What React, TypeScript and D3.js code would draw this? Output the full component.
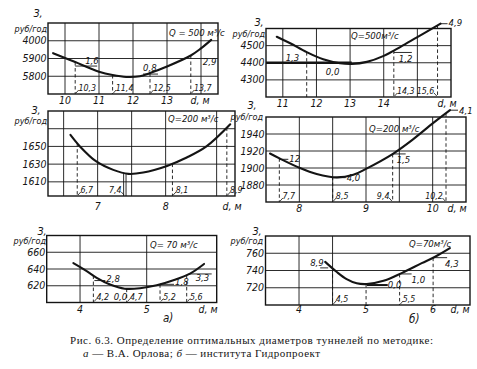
import React, { useEffect } from "react";
import * as d3 from "d3";

// ---------------- DATA ----------------
// а) Q = 500 m3/s
const a500D = [9.65, 10.0, 10.3, 11.0, 11.4, 11.8, 12.2, 12.5, 13.0, 13.7, 14.0, 14.3];
const a500Z = [5930, 5903, 5880, 5826, 5807, 5796, 5800, 5818, 5855, 5917, 5957, 6005];
const a500XGrid = [10, 11, 12, 13, 14];
const a500YGrid = [5800, 5900, 6000];
const a500XTicks = [10, 11, 12, 13];
const a500XLabels = ["10", "11", "12", "13"];
const a500YTicks = [5800, 5900, 6000];
const a500YLabels = ["5800", "5900", "4000"];
const a500Opt = [10.3, 11.4, 12.5, 13.7];
const a500OptLabels = ["10,3", "11,4", "12,5", "13,7"];
const a500PctAt = [10.3, 12.5, 13.7];
const a500Pct = ["1,6", "0,8", "2,9"];

// б) Q = 500 m3/s
const b500D = [10.82, 11.22, 11.71, 12.2, 12.7, 13.05, 13.5, 14.0, 14.5, 15.0, 15.69];
const b500Z = [4552, 4514, 4462, 4420, 4397, 4393, 4405, 4440, 4493, 4550, 4628];
const b500XGrid = [11, 12, 13, 14, 15];
const b500YGrid = [4300, 4400, 4500];
const b500XTicks = [11, 12, 13, 14];
const b500XLabels = ["11", "12", "13", "14"];
const b500YTicks = [4300, 4400, 4500];
const b500YLabels = ["4300", "4400", "4500"];
const b500Opt = [11.71, 14.3, 15.6];
const b500OptLabels = ["", "14,3", "15,6"];
const b500PctAt = [11.71, 13.05, 14.3, 15.69];
const b500Pct = ["1,3", "0,0", "1,2", "4,9"];

// а) Q = 200 m3/s
const a200D = [6.6, 6.74, 6.98, 7.23, 7.45, 7.67, 8.02, 8.31, 8.6, 8.95];
const a200Z = [1663, 1650, 1633, 1623.5, 1619, 1620.5, 1628, 1637.5, 1650, 1675];
const a200XGrid = [6.5, 7, 7.5, 8, 8.75];
const a200YGrid = [1610, 1630, 1650, 1670];
const a200XTicks = [7, 8];
const a200XLabels = ["7", "8"];
const a200YTicks = [1610, 1630, 1650];
const a200YLabels = ["1610", "1630", "1650"];
const a200Opt = [6.7, 7.4, 8.1, 8.9];
const a200OptLabels = ["6,7", "7,4", "8,1", "8,9"];
const a200PctAt: number[] = [];
const a200Pct: string[] = [];

// б) Q = 200 m3/s
const b200D = [7.56, 7.71, 8.01, 8.26, 8.56, 8.81, 9.0, 9.41, 9.71, 10.01, 10.26];
const b200Z = [1917, 1911, 1900, 1893, 1889, 1892, 1899, 1917, 1934, 1953, 1968];
const b200XGrid = [8, 8.5, 9, 9.5, 10];
const b200YGrid = [1880, 1900, 1920, 1940];
const b200XTicks = [8, 9, 10];
const b200XLabels = ["8", "9", "10"];
const b200YTicks = [1880, 1900, 1920, 1940];
const b200YLabels = ["1880", "1900", "1920", "1940"];
const b200Opt = [7.7, 8.5, 9.4, 10.2];
const b200OptLabels = ["7,7", "8,5", "9,4", "10,2"];
const b200PctAt = [7.7, 8.5, 9.4, 10.26];
const b200Pct = ["12", "4,0", "1,5", "4,1"];

// а) Q = 70 m3/s
const a70D = [3.9, 4.1, 4.25, 4.45, 4.67, 4.9, 5.15, 5.4, 5.65, 5.86];
const a70Z = [647, 637.5, 629.5, 621.5, 616.5, 617, 620.5, 626.5, 634.5, 646];
const a70XGrid = [4, 5];
const a70YGrid = [620, 640, 660];
const a70XTicks = [4, 5];
const a70XLabels = ["4", "5"];
const a70YTicks = [620, 640, 660];
const a70YLabels = ["620", "640", "660"];
const a70Opt = [4.2, 4.7, 5.2, 5.6];
const a70OptLabels = ["4,2", "4,7", "5,2", "5,6"];
const a70PctAt = [4.2, 4.67, 5.2, 5.6];
const a70Pct = ["2,8", "0,0", "1,8", "3,3"];

// б) Q = 70 m3/s
const b70D = [4.39, 4.56, 4.71, 4.86, 5.01, 5.26, 5.53, 5.83, 6.03, 6.25];
const b70Z = [750, 738.5, 730, 725.2, 724.3, 728, 737, 748.5, 756, 766];
const b70XGrid = [4, 4.5];
const b70YGrid = [720, 740, 760];
const b70XTicks = [4, 5, 6];
const b70XLabels = ["4", "5", "6"];
const b70YTicks = [720, 740, 760];
const b70YLabels = ["720", "740", "760"];
const b70Opt = [4.5, 5.0, 5.5, 6.0];
const b70OptLabels = ["4,5", "", "5,5", ""];
const b70PctAt = [4.39, 5.01, 5.5, 6.0];
const b70Pct = ["8,9", "0,0", "1,0", "4,3"];

// ---------------- LAYOUT ----------------
type Leader = [number, number, number] | null; // x1 off, x2 off, y off
interface PanelCfg {
  d: number[]; z: number[];
  xDom: [number, number]; xRange: [number, number];
  yDom: [number, number]; yRange: [number, number];
  xGrid: number[]; yGrid: number[];
  xTicks: number[]; xLabels: string[];
  yTicks: number[]; yLabels: string[];
  opt: number[]; optLabels: string[]; optSide: string[]; optSolid: boolean[];
  pctAt: number[]; pct: string[];
  pctText: [number, number][]; pctLeader: Leader[]; pctThick?: boolean[];
  q: string; qPos: [number, number];
  dmPos: [number, number]; zPos: [number, number]; rubPos: [number, number];
  tickY: number;
  thick?: [number, number, number];
}

const panels: PanelCfg[] = [
  {
    d: a500D, z: a500Z, xDom: [9.5, 14.5], xRange: [48, 218], yDom: [5700, 6100], yRange: [94, 23],
    xGrid: a500XGrid, yGrid: a500YGrid, xTicks: a500XTicks, xLabels: a500XLabels,
    yTicks: a500YTicks, yLabels: a500YLabels,
    opt: a500Opt, optLabels: a500OptLabels, optSide: ["r", "r", "r", "r"], optSolid: [false, false, false, false],
    pctAt: a500PctAt, pct: a500Pct,
    pctText: [[10, 2], [-7, -2], [12, 10]], pctLeader: [[0, 22, 4], [-7, 8, 1], null],
    q: "Q = 500 м³/с", qPos: [169, 35.5], dmPos: [200, 104], zPos: [38, 17], rubPos: [47, 32], tickY: 104,
  },
  {
    d: b500D, z: b500Z, xDom: [10.5, 16.0], xRange: [266, 451], yDom: [4200, 4600], yRange: [97, 28.5],
    xGrid: b500XGrid, yGrid: b500YGrid, xTicks: b500XTicks, xLabels: b500XLabels,
    yTicks: b500YTicks, yLabels: b500YLabels,
    opt: b500Opt, optLabels: b500OptLabels, optSide: ["n", "r", "l"], optSolid: [false, false, false],
    pctAt: b500PctAt, pct: b500Pct,
    pctText: [[-21, 9], [-26, 11], [5, 12], [8, 2]], pctLeader: [null, null, [0, 18, 2], [0, 7, 0]],
    q: "Q=500м³/с", qPos: [351, 38.5], dmPos: [447, 106.5], zPos: [259, 26], rubPos: [265, 37], tickY: 106.5,
    thick: [10.5, 13.05, 4400],
  },
  {
    d: a200D, z: a200Z, xDom: [6.27, 9.02], xRange: [48, 235], yDom: [1594, 1690], yRange: [196, 111],
    xGrid: a200XGrid, yGrid: a200YGrid, xTicks: a200XTicks, xLabels: a200XLabels,
    yTicks: a200YTicks, yLabels: a200YLabels,
    opt: a200Opt, optLabels: a200OptLabels, optSide: ["r", "l", "r", "r"], optSolid: [false, true, false, false],
    pctAt: a200PctAt, pct: a200Pct, pctText: [], pctLeader: [],
    q: "Q=200 м³/с", qPos: [168, 121.5], dmPos: [232, 210], zPos: [36, 114], rubPos: [47, 124], tickY: 210,
  },
  {
    d: b200D, z: b200Z, xDom: [7.5, 10.5], xRange: [266, 466], yDom: [1860, 1960], yRange: [202, 117],
    xGrid: b200XGrid, yGrid: b200YGrid, xTicks: b200XTicks, xLabels: b200XLabels,
    yTicks: b200YTicks, yLabels: b200YLabels,
    opt: b200Opt, optLabels: b200OptLabels, optSide: ["r", "r", "l", "l"], optSolid: [false, false, false, false],
    pctAt: b200PctAt, pct: b200Pct,
    pctText: [[10, 4], [14, 4], [4, 9], [9, 4]], pctLeader: [[0, 9, 1], [0, 13, 1], [0, 13, 0], [0, 8, 0]],
    q: "Q=200 м³/с", qPos: [369, 131.5], dmPos: [457, 212], zPos: [252, 109], rubPos: [263, 120], tickY: 212,
  },
  {
    d: a70D, z: a70Z, xDom: [3.5, 6.05], xRange: [46.7, 216.7], yDom: [600, 680], yRange: [302.5, 235.5],
    xGrid: a70XGrid, yGrid: a70YGrid, xTicks: a70XTicks, xLabels: a70XLabels,
    yTicks: a70YTicks, yLabels: a70YLabels,
    opt: a70Opt, optLabels: a70OptLabels, optSide: ["r", "r", "r", "r"], optSolid: [false, false, false, false],
    pctAt: a70PctAt, pct: a70Pct,
    pctText: [[13, 6], [-11, 11], [15, 1], [9, 6]], pctLeader: [[1, 12, 5], null, [0, 14, 0], [2, 25, -1]],
    q: "Q= 70 м³/с", qPos: [150, 247.5], dmPos: [208, 312.5], zPos: [42, 234.5], rubPos: [46, 243.8], tickY: 312.5,
  },
  {
    d: b70D, z: b70Z, xDom: [3.5, 6.55], xRange: [265.5, 470], yDom: [700, 780], yRange: [305, 236],
    xGrid: b70XGrid, yGrid: b70YGrid, xTicks: b70XTicks, xLabels: b70XLabels,
    yTicks: b70YTicks, yLabels: b70YLabels,
    opt: b70Opt, optLabels: b70OptLabels, optSide: ["r", "n", "r", "n"], optSolid: [false, false, false, false],
    pctAt: b70PctAt, pct: b70Pct,
    pctText: [[-15, 4], [21, 4], [12, 9], [12, 9]], pctLeader: [[-5, 3, 6], [0, 21, 1], [0, 12, 0], [0, 14, 0]],
    pctThick: [false, true, false, false],
    q: "Q=70м³/с", qPos: [409, 246.5], dmPos: [460, 313], zPos: [257, 235], rubPos: [263, 244], tickY: 313,
  },
];

const INK = "#141414";
const FONT = '"Liberation Sans Narrow", "DejaVu Sans Condensed", "Liberation Sans", sans-serif';
const SERIF = '"Liberation Serif", "DejaVu Serif", serif';

function Panel({ c }: { c: PanelCfg }) {
  const x = d3.scaleLinear().domain(c.xDom).range(c.xRange);
  const y = d3.scaleLinear().domain(c.yDom).range(c.yRange);
  const zAt = d3.scaleLinear().domain(c.d).range(c.z).clamp(true);
  const pts = c.d.map((d, i) => [d, c.z[i]] as [number, number]);
  const line = d3
    .line<[number, number]>()
    .x((p) => x(p[0]))
    .y((p) => y(p[1]))
    .curve(d3.curveCatmullRom.alpha(0.5));
  const [L, R] = c.xRange;
  const B = c.yRange[0];
  const T = c.yRange[1];
  const txt = { fontFamily: FONT, fontStyle: "italic" as const, fill: INK };
  return (
    <g>
      {c.xGrid.map((g, i) => (
        <line key={"xg" + i} x1={x(g)} x2={x(g)} y1={T} y2={B} stroke={INK} strokeWidth={0.9} />
      ))}
      {c.yGrid.map((g, i) => (
        <line key={"yg" + i} x1={L} x2={R} y1={y(g)} y2={y(g)} stroke={INK} strokeWidth={0.9} />
      ))}
      {c.thick && (
        <line x1={x(c.thick[0])} x2={x(c.thick[1])} y1={y(c.thick[2])} y2={y(c.thick[2])} stroke={INK} strokeWidth={2.6} />
      )}
      <rect x={L} y={T} width={R - L} height={B - T} fill="none" stroke={INK} strokeWidth={1.4} />
      {c.opt.map((o, i) => {
        const xx = x(o);
        const yy = y(zAt(o));
        const side = c.optSide[i];
        const lab = c.optLabels[i];
        const s = side === "l" ? -1 : 1;
        return (
          <g key={"op" + i}>
            {c.optSolid[i] ? (
              <g>
                <line x1={xx - 1.2} x2={xx - 1.2} y1={yy} y2={B} stroke={INK} strokeWidth={0.9} />
                <line x1={xx + 1.2} x2={xx + 1.2} y1={yy} y2={B} stroke={INK} strokeWidth={0.9} />
              </g>
            ) : (
              <line x1={xx} x2={xx} y1={yy} y2={B} stroke={INK} strokeWidth={0.9} strokeDasharray="3.5,2.5" />
            )}
            {lab !== "" && side !== "n" && (
              <g>
                <line x1={xx + s * 0.8} x2={xx + s * 3.5} y1={B - 1} y2={B - 4} stroke={INK} strokeWidth={0.8} />
                <text x={xx + s * 3.2} y={B - 3} fontSize={8.8} textAnchor={side === "l" ? "end" : "start"} {...txt}>
                  {lab}
                </text>
              </g>
            )}
          </g>
        );
      })}
      <path d={line(pts) || ""} fill="none" stroke={INK} strokeWidth={2.1} strokeLinecap="round" />
      {c.pctAt.map((p, i) => {
        const cx = x(p);
        const cy = y(zAt(p));
        const t = c.pctText[i];
        const ld = c.pctLeader[i];
        const thick = c.pctThick ? c.pctThick[i] : false;
        return (
          <g key={"pc" + i}>
            {ld && (
              <line x1={cx + ld[0]} x2={cx + ld[1]} y1={cy + ld[2]} y2={cy + ld[2]} stroke={INK} strokeWidth={thick ? 2 : 0.9} />
            )}
            <text x={cx + t[0]} y={cy + t[1]} fontSize={9.5} {...txt}>
              {c.pct[i]}
            </text>
          </g>
        );
      })}
      {c.yTicks.map((v, i) => (
        <text key={"yt" + i} x={L - 1.5} y={y(v) + 3.6} fontSize={10.5} textAnchor="end" {...txt}>
          {c.yLabels[i]}
        </text>
      ))}
      {c.xTicks.map((v, i) => (
        <text key={"xt" + i} x={x(v)} y={c.tickY} fontSize={10.5} textAnchor="middle" {...txt}>
          {c.xLabels[i]}
        </text>
      ))}
      <text x={c.dmPos[0]} y={c.dmPos[1]} fontSize={10.5} textAnchor="middle" {...txt}>
        d, м
      </text>
      <text x={c.zPos[0]} y={c.zPos[1]} fontSize={10.5} textAnchor="middle" {...txt}>
        З,
      </text>
      <text x={c.rubPos[0]} y={c.rubPos[1]} fontSize={9} textAnchor="end" {...txt}>
        руб/год
      </text>
      <text x={c.qPos[0]} y={c.qPos[1]} fontSize={9.5} {...txt}>
        {c.q}
      </text>
    </g>
  );
}

export default function App() {
  useEffect(() => {
    document.body.style.margin = "0";
  }, []);
  return (
    <svg
      width={477}
      height={369}
      viewBox="0 0 477 369"
      style={{ position: "absolute", left: 0, top: 0, background: "#fff" }}
    >
      <rect x={0} y={0} width={477} height={369} fill="#fff" />
      {panels.map((p, i) => (
        <Panel key={i} c={p} />
      ))}
      <text x={163} y={322} fontSize={11.5} fontFamily={FONT} fontStyle="italic" fill={INK}>
        а)
      </text>
      <text x={409} y={323} fontSize={11.5} fontFamily={FONT} fontStyle="italic" fill={INK}>
        б)
      </text>
      <text x={70} y={343.5} fontSize={11} fontFamily={SERIF} fill={INK} textLength={363} lengthAdjust="spacing">
        Рис. 6.3. Определение оптимальных диаметров туннелей по методике:
      </text>
      <text x={83} y={357} fontSize={11} fontFamily={SERIF} fill={INK} textLength={237} lengthAdjust="spacing">
        <tspan fontStyle="italic">а</tspan> — В.А. Орлова; <tspan fontStyle="italic">б</tspan> — института Гидропроект
      </text>
    </svg>
  );
}
